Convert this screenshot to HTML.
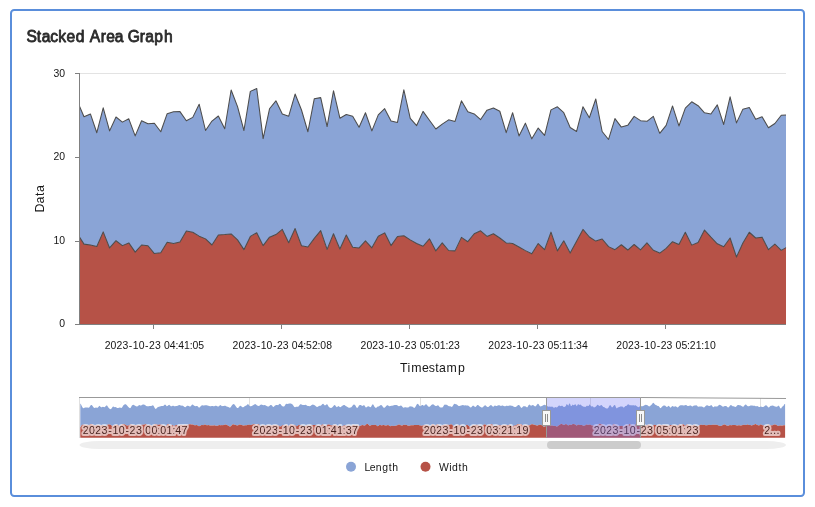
<!DOCTYPE html>
<html lang="en"><head><meta charset="utf-8"><title>Stacked Area Graph</title>
<style>
html,body{margin:0;padding:0;background:#fff;}
body{width:815px;height:507px;overflow:hidden;}
svg{display:block;font-family:"Liberation Sans",Arial,sans-serif;}
svg text{font-family:"Liberation Sans",Arial,sans-serif;}
.lbl{fill:#151515}
.halo{stroke:#fff;stroke-width:4px;stroke-linejoin:round;fill:#000;paint-order:stroke;opacity:.62}
</style></head><body>
<svg width="815" height="507" viewBox="0 0 815 507">
<rect x="0" y="0" width="815" height="507" fill="#ffffff"/>
<rect x="11" y="10" width="793" height="486" rx="3.2" ry="3.2" fill="#ffffff" stroke="#5a8edb" stroke-width="2"/>
<text transform="scale(1.0,1)" x="26.54 36.85 41.76 50.32 58.33 66.42 75.71 85.09 89.73 100.63 106.17 114.79 123.51 127.64 139.75 145.16 154.33 163.97" y="41.7" font-size="15.6" fill="#2b2b2b" stroke="#2b2b2b" stroke-width="0.8" stroke-linejoin="round">Stacked Area Graph</text>
<path d="M79,73.5H786" stroke="#e3e3e3" stroke-width="1" fill="none"/>
<path d="M79.50,106.33 84.01,116.76 90.41,113.93 96.81,132.71 103.20,107.80 109.60,130.87 116.00,117.00 122.39,122.15 128.79,118.84 135.19,135.90 141.58,120.68 147.98,123.75 154.38,123.26 160.77,131.73 167.17,113.69 173.57,111.85 179.96,111.60 186.36,120.68 192.76,117.37 199.16,104.24 205.55,130.50 211.95,121.05 218.35,116.02 224.74,128.78 231.14,90.01 237.54,106.57 243.93,130.50 250.33,91.36 256.73,88.53 263.12,138.60 269.52,108.78 275.92,100.80 282.31,114.06 288.71,116.14 295.11,94.06 301.50,110.01 307.90,131.73 314.30,98.72 320.70,97.61 327.09,126.57 333.49,90.74 339.89,118.23 346.28,114.55 352.68,116.27 359.08,127.31 365.47,112.71 371.87,130.87 378.27,114.92 384.66,108.66 391.06,121.05 397.46,122.40 403.85,89.76 410.25,118.35 416.65,125.59 423.05,111.36 429.44,120.19 435.84,129.03 442.24,124.12 448.63,119.82 455.03,121.42 461.43,100.80 467.82,111.85 474.22,113.93 480.62,119.58 487.01,110.13 493.41,107.92 499.81,111.23 506.20,132.71 512.60,112.71 519.00,135.90 525.39,123.14 531.79,138.84 538.19,128.04 544.59,135.41 550.98,109.88 557.38,106.82 563.78,112.71 570.17,127.55 576.57,131.48 582.97,106.69 589.36,117.74 595.76,98.96 602.16,131.48 608.55,139.46 614.95,118.60 621.35,127.06 627.74,125.34 634.14,116.39 640.54,120.68 646.93,121.30 653.33,116.33 659.73,133.32 666.13,125.34 672.52,105.96 678.92,125.96 685.32,108.17 691.71,101.79 698.11,105.71 704.51,112.83 710.90,114.06 717.30,104.85 723.70,124.49 730.09,96.88 736.49,122.89 742.89,109.15 749.28,107.55 755.68,119.21 762.08,116.76 768.47,127.80 774.87,123.50 781.27,115.28 786.00,114.92 L786.00,247.58 781.27,250.40 774.87,244.14 768.47,249.66 762.08,237.15 755.68,238.01 749.28,232.24 742.89,242.92 736.49,257.03 730.09,238.01 723.70,246.72 717.30,243.77 710.90,237.15 704.51,230.03 698.11,242.55 691.71,245.12 685.32,232.24 678.92,244.51 672.52,241.69 666.13,248.44 659.73,253.10 653.33,250.28 646.93,242.92 640.54,249.91 634.14,244.51 627.74,250.03 621.35,244.76 614.95,249.66 608.55,246.60 602.16,238.99 595.76,241.07 589.36,237.03 582.97,229.42 576.57,241.32 570.17,253.10 563.78,240.83 557.38,250.89 550.98,232.12 544.59,249.66 538.19,243.53 531.79,253.84 525.39,250.65 519.00,246.96 512.60,243.53 506.20,242.92 499.81,238.01 493.41,233.71 487.01,236.41 480.62,230.77 474.22,233.71 467.82,241.69 461.43,237.39 455.03,250.89 448.63,250.52 442.24,242.92 435.84,250.89 429.44,238.87 423.05,246.23 416.65,243.53 410.25,239.85 403.85,235.80 397.46,236.53 391.06,245.61 384.66,232.85 378.27,236.17 371.87,247.82 365.47,240.83 359.08,247.95 352.68,247.21 346.28,234.94 339.89,249.05 333.49,233.71 327.09,249.42 320.70,230.65 314.30,238.38 307.90,246.96 301.50,245.74 295.11,228.56 288.71,242.79 282.31,229.42 275.92,234.57 269.52,237.15 263.12,245.61 256.73,232.73 250.33,236.41 243.93,249.66 237.54,239.85 231.14,233.96 224.74,234.57 218.35,234.94 211.95,245.00 205.55,238.87 199.16,236.17 192.76,232.24 186.36,231.01 179.96,242.06 173.57,243.53 167.17,242.30 160.77,252.85 154.38,253.59 147.98,245.74 141.58,245.00 135.19,252.12 128.79,242.92 122.39,245.61 116.00,240.71 109.60,247.95 103.20,231.87 96.81,246.47 90.41,245.00 84.01,244.14 79.50,237.15Z" fill="#8aa4d6"/>
<path d="M79.50,237.15 84.01,244.14 90.41,245.00 96.81,246.47 103.20,231.87 109.60,247.95 116.00,240.71 122.39,245.61 128.79,242.92 135.19,252.12 141.58,245.00 147.98,245.74 154.38,253.59 160.77,252.85 167.17,242.30 173.57,243.53 179.96,242.06 186.36,231.01 192.76,232.24 199.16,236.17 205.55,238.87 211.95,245.00 218.35,234.94 224.74,234.57 231.14,233.96 237.54,239.85 243.93,249.66 250.33,236.41 256.73,232.73 263.12,245.61 269.52,237.15 275.92,234.57 282.31,229.42 288.71,242.79 295.11,228.56 301.50,245.74 307.90,246.96 314.30,238.38 320.70,230.65 327.09,249.42 333.49,233.71 339.89,249.05 346.28,234.94 352.68,247.21 359.08,247.95 365.47,240.83 371.87,247.82 378.27,236.17 384.66,232.85 391.06,245.61 397.46,236.53 403.85,235.80 410.25,239.85 416.65,243.53 423.05,246.23 429.44,238.87 435.84,250.89 442.24,242.92 448.63,250.52 455.03,250.89 461.43,237.39 467.82,241.69 474.22,233.71 480.62,230.77 487.01,236.41 493.41,233.71 499.81,238.01 506.20,242.92 512.60,243.53 519.00,246.96 525.39,250.65 531.79,253.84 538.19,243.53 544.59,249.66 550.98,232.12 557.38,250.89 563.78,240.83 570.17,253.10 576.57,241.32 582.97,229.42 589.36,237.03 595.76,241.07 602.16,238.99 608.55,246.60 614.95,249.66 621.35,244.76 627.74,250.03 634.14,244.51 640.54,249.91 646.93,242.92 653.33,250.28 659.73,253.10 666.13,248.44 672.52,241.69 678.92,244.51 685.32,232.24 691.71,245.12 698.11,242.55 704.51,230.03 710.90,237.15 717.30,243.77 723.70,246.72 730.09,238.01 736.49,257.03 742.89,242.92 749.28,232.24 755.68,238.01 762.08,237.15 768.47,249.66 774.87,244.14 781.27,250.40 786.00,247.58 L786.0,324.5 79.5,324.5Z" fill="#b65247"/>
<path d="M79.50,106.33 84.01,116.76 90.41,113.93 96.81,132.71 103.20,107.80 109.60,130.87 116.00,117.00 122.39,122.15 128.79,118.84 135.19,135.90 141.58,120.68 147.98,123.75 154.38,123.26 160.77,131.73 167.17,113.69 173.57,111.85 179.96,111.60 186.36,120.68 192.76,117.37 199.16,104.24 205.55,130.50 211.95,121.05 218.35,116.02 224.74,128.78 231.14,90.01 237.54,106.57 243.93,130.50 250.33,91.36 256.73,88.53 263.12,138.60 269.52,108.78 275.92,100.80 282.31,114.06 288.71,116.14 295.11,94.06 301.50,110.01 307.90,131.73 314.30,98.72 320.70,97.61 327.09,126.57 333.49,90.74 339.89,118.23 346.28,114.55 352.68,116.27 359.08,127.31 365.47,112.71 371.87,130.87 378.27,114.92 384.66,108.66 391.06,121.05 397.46,122.40 403.85,89.76 410.25,118.35 416.65,125.59 423.05,111.36 429.44,120.19 435.84,129.03 442.24,124.12 448.63,119.82 455.03,121.42 461.43,100.80 467.82,111.85 474.22,113.93 480.62,119.58 487.01,110.13 493.41,107.92 499.81,111.23 506.20,132.71 512.60,112.71 519.00,135.90 525.39,123.14 531.79,138.84 538.19,128.04 544.59,135.41 550.98,109.88 557.38,106.82 563.78,112.71 570.17,127.55 576.57,131.48 582.97,106.69 589.36,117.74 595.76,98.96 602.16,131.48 608.55,139.46 614.95,118.60 621.35,127.06 627.74,125.34 634.14,116.39 640.54,120.68 646.93,121.30 653.33,116.33 659.73,133.32 666.13,125.34 672.52,105.96 678.92,125.96 685.32,108.17 691.71,101.79 698.11,105.71 704.51,112.83 710.90,114.06 717.30,104.85 723.70,124.49 730.09,96.88 736.49,122.89 742.89,109.15 749.28,107.55 755.68,119.21 762.08,116.76 768.47,127.80 774.87,123.50 781.27,115.28 786.00,114.92" fill="none" stroke="#4c4c4c" stroke-width="1.05" stroke-linejoin="round"/>
<path d="M79.50,237.15 84.01,244.14 90.41,245.00 96.81,246.47 103.20,231.87 109.60,247.95 116.00,240.71 122.39,245.61 128.79,242.92 135.19,252.12 141.58,245.00 147.98,245.74 154.38,253.59 160.77,252.85 167.17,242.30 173.57,243.53 179.96,242.06 186.36,231.01 192.76,232.24 199.16,236.17 205.55,238.87 211.95,245.00 218.35,234.94 224.74,234.57 231.14,233.96 237.54,239.85 243.93,249.66 250.33,236.41 256.73,232.73 263.12,245.61 269.52,237.15 275.92,234.57 282.31,229.42 288.71,242.79 295.11,228.56 301.50,245.74 307.90,246.96 314.30,238.38 320.70,230.65 327.09,249.42 333.49,233.71 339.89,249.05 346.28,234.94 352.68,247.21 359.08,247.95 365.47,240.83 371.87,247.82 378.27,236.17 384.66,232.85 391.06,245.61 397.46,236.53 403.85,235.80 410.25,239.85 416.65,243.53 423.05,246.23 429.44,238.87 435.84,250.89 442.24,242.92 448.63,250.52 455.03,250.89 461.43,237.39 467.82,241.69 474.22,233.71 480.62,230.77 487.01,236.41 493.41,233.71 499.81,238.01 506.20,242.92 512.60,243.53 519.00,246.96 525.39,250.65 531.79,253.84 538.19,243.53 544.59,249.66 550.98,232.12 557.38,250.89 563.78,240.83 570.17,253.10 576.57,241.32 582.97,229.42 589.36,237.03 595.76,241.07 602.16,238.99 608.55,246.60 614.95,249.66 621.35,244.76 627.74,250.03 634.14,244.51 640.54,249.91 646.93,242.92 653.33,250.28 659.73,253.10 666.13,248.44 672.52,241.69 678.92,244.51 685.32,232.24 691.71,245.12 698.11,242.55 704.51,230.03 710.90,237.15 717.30,243.77 723.70,246.72 730.09,238.01 736.49,257.03 742.89,242.92 749.28,232.24 755.68,238.01 762.08,237.15 768.47,249.66 774.87,244.14 781.27,250.40 786.00,247.58" fill="none" stroke="#4c4c4c" stroke-width="1.05" stroke-linejoin="round"/>
<path d="M79.5,73V325" stroke="#808080" stroke-width="1" fill="none"/>
<path d="M79,324.5H786" stroke="#808080" stroke-width="1" fill="none"/>
<path d="M75,73.5H80" stroke="#808080" stroke-width="1" fill="none"/>
<path d="M75,157.5H80" stroke="#808080" stroke-width="1" fill="none"/>
<path d="M75,241.5H80" stroke="#808080" stroke-width="1" fill="none"/>
<path d="M75,324.5H80" stroke="#808080" stroke-width="1" fill="none"/>
<path d="M153.5,324V329" stroke="#808080" stroke-width="1" fill="none"/>
<path d="M281.5,324V329" stroke="#808080" stroke-width="1" fill="none"/>
<path d="M409.5,324V329" stroke="#808080" stroke-width="1" fill="none"/>
<path d="M537.5,324V329" stroke="#808080" stroke-width="1" fill="none"/>
<path d="M665.5,324V329" stroke="#808080" stroke-width="1" fill="none"/>
<text transform="scale(0.95,1)" x="56.21 62.45" y="77" font-size="11" class="lbl" >30</text>
<text transform="scale(0.95,1)" x="56.21 62.45" y="160.2" font-size="11" class="lbl" >20</text>
<text transform="scale(0.95,1)" x="56.21 62.45" y="243.9" font-size="11" class="lbl" >10</text>
<text transform="scale(0.95,1)" x="62.45" y="327.5" font-size="11" class="lbl" >0</text>
<text transform="scale(0.95,1)" x="110.17 116.41 122.65 128.89 135.56 139.77 146.01 152.67 156.88 163.12 169.36 172.54 178.78 184.68 187.53 193.77 199.68 202.52 208.77" y="349" font-size="11" class="lbl" >2023-10-23 04:41:05</text>
<text transform="scale(0.95,1)" x="244.80 251.04 257.28 263.53 270.19 274.40 280.64 287.30 291.51 297.75 303.99 307.17 313.41 319.32 322.16 328.40 334.31 337.16 343.40" y="349" font-size="11" class="lbl" >2023-10-23 04:52:08</text>
<text transform="scale(0.95,1)" x="379.43 385.67 391.92 398.16 404.82 409.03 415.27 421.94 426.14 432.39 438.62 441.80 448.04 453.95 456.79 463.03 468.94 471.79 478.03" y="349" font-size="11" class="lbl" >2023-10-23 05:01:23</text>
<text transform="scale(0.95,1)" x="514.06 520.31 526.55 532.79 539.45 543.66 549.90 556.57 560.78 567.02 573.25 576.43 582.67 588.58 591.42 597.67 603.57 606.42 612.66" y="349" font-size="11" class="lbl" >2023-10-23 05:11:34</text>
<text transform="scale(0.95,1)" x="648.70 654.94 661.18 667.42 674.08 678.29 684.53 691.20 695.41 701.65 707.89 711.06 717.30 723.21 726.06 732.30 738.20 741.05 747.29" y="349" font-size="11" class="lbl" >2023-10-23 05:21:10</text>
<g transform="translate(43.5,199) rotate(-90)"><text transform="scale(0.95,1)" x="-14.21 -4.64 3.11 7.25" y="0" font-size="13" class="lbl" >Data</text></g>
<text transform="scale(0.95,1)" x="421.11 429.01 432.78 444.29 451.30 458.10 462.24 470.05 482.02" y="371.8" font-size="13" class="lbl" >Timestamp</text>
<path d="M79.5,398V438" stroke="#e0e0e0" stroke-width="1" fill="none"/>
<path d="M249.5,398V438" stroke="#e0e0e0" stroke-width="1" fill="none"/>
<path d="M420.5,398V438" stroke="#e0e0e0" stroke-width="1" fill="none"/>
<path d="M590.5,398V438" stroke="#e0e0e0" stroke-width="1" fill="none"/>
<path d="M760.5,398V438" stroke="#e0e0e0" stroke-width="1" fill="none"/>
<path d="M80.30,403.63 80.68,403.63 81.53,405.60 82.38,407.33 83.23,408.26 84.08,408.10 84.93,407.57 85.78,407.41 86.63,407.44 87.49,407.54 88.34,407.75 89.19,407.44 90.04,406.24 90.89,405.12 91.74,405.10 92.59,406.08 93.44,407.24 94.29,407.90 95.14,407.77 96.00,407.45 96.85,407.76 97.70,407.83 98.55,406.78 99.40,405.87 100.25,406.38 101.10,407.32 101.95,407.29 102.80,406.79 103.66,406.89 104.51,407.14 105.36,406.54 106.21,405.47 107.06,405.51 107.91,406.78 108.76,407.96 109.61,408.73 110.46,409.17 111.32,408.68 112.17,407.39 113.02,406.51 113.87,406.82 114.72,407.24 115.57,407.11 116.42,407.42 117.27,408.04 118.12,408.02 118.98,407.66 119.83,407.56 120.68,407.87 121.53,407.99 122.38,406.98 123.23,405.47 124.08,404.63 124.93,404.32 125.78,404.33 126.64,405.01 127.49,406.04 128.34,406.93 129.19,407.76 130.04,408.16 130.89,407.39 131.74,405.83 132.59,404.88 133.44,404.82 134.30,405.16 135.15,405.72 136.00,406.18 136.85,406.46 137.70,406.33 138.55,405.48 139.40,405.03 140.25,405.43 141.10,405.55 141.96,404.98 142.81,404.47 143.66,404.50 144.51,404.78 145.36,405.22 146.21,405.92 147.06,406.26 147.91,406.21 148.76,406.23 149.62,406.05 150.47,405.92 151.32,405.99 152.17,405.60 153.02,405.26 153.87,406.13 154.72,407.88 155.57,408.88 156.42,408.38 157.28,407.47 158.13,407.07 158.98,406.79 159.83,406.45 160.68,406.23 161.53,406.01 162.38,406.00 163.23,406.11 164.08,405.35 164.94,404.41 165.79,404.96 166.64,406.14 167.49,406.07 168.34,405.13 169.19,404.81 170.04,405.52 170.89,406.34 171.74,406.33 172.60,405.79 173.45,405.75 174.30,406.20 175.15,406.37 176.00,406.11 176.85,405.90 177.70,405.79 178.55,405.37 179.40,405.06 180.26,405.37 181.11,405.64 181.96,405.59 182.81,405.76 183.66,406.34 184.51,407.11 185.36,407.30 186.21,406.54 187.06,405.83 187.92,405.77 188.77,406.12 189.62,406.62 190.47,406.56 191.32,405.48 192.17,404.45 193.02,404.67 193.87,405.49 194.72,405.96 195.58,406.17 196.43,406.06 197.28,406.03 198.13,406.82 198.98,407.64 199.83,407.33 200.68,406.27 201.53,405.41 202.38,405.24 203.23,405.45 204.09,405.43 204.94,405.35 205.79,405.30 206.64,405.24 207.49,405.49 208.34,405.84 209.19,406.08 210.04,406.35 210.89,406.27 211.75,405.92 212.60,405.96 213.45,406.26 214.30,406.19 215.15,405.75 216.00,405.66 216.85,406.03 217.70,406.40 218.55,406.46 219.41,405.71 220.26,404.90 221.11,405.41 221.96,406.15 222.81,406.10 223.66,405.92 224.51,405.68 225.36,405.63 226.21,406.19 227.07,406.69 227.92,406.82 228.77,407.21 229.62,407.76 230.47,407.49 231.32,406.23 232.17,404.92 233.02,404.14 233.87,404.05 234.73,404.82 235.58,406.05 236.43,407.22 237.28,408.01 238.13,407.98 238.98,407.11 239.83,406.09 240.68,405.80 241.53,406.43 242.39,407.25 243.24,407.36 244.09,406.63 244.94,405.88 245.79,405.65 246.64,405.18 247.49,404.32 248.34,404.37 249.19,405.49 250.05,406.33 250.90,406.33 251.75,405.98 252.60,405.59 253.45,405.07 254.30,404.41 255.15,404.05 256.00,404.42 256.85,405.18 257.71,405.82 258.56,406.08 259.41,405.64 260.26,404.90 261.11,404.55 261.96,404.67 262.81,405.06 263.66,405.17 264.51,405.04 265.37,405.22 266.22,405.68 267.07,406.15 267.92,406.47 268.77,406.40 269.62,405.77 270.47,404.99 271.32,404.88 272.17,405.86 273.03,406.94 273.88,406.73 274.73,405.85 275.58,405.29 276.43,404.97 277.28,405.09 278.13,405.17 278.98,404.35 279.83,403.66 280.69,404.31 281.54,405.46 282.39,406.15 283.24,406.62 284.09,406.62 284.94,405.38 285.79,403.89 286.64,403.65 287.49,403.98 288.35,403.80 289.20,403.52 290.05,403.44 290.90,403.48 291.75,403.88 292.60,404.55 293.45,405.69 294.30,406.98 295.15,407.20 296.01,406.72 296.86,406.65 297.71,406.79 298.56,406.53 299.41,405.37 300.26,404.14 301.11,404.19 301.96,404.78 302.81,404.97 303.67,405.04 304.52,404.92 305.37,404.71 306.22,405.10 307.07,405.75 307.92,405.94 308.77,406.06 309.62,406.19 310.47,405.92 311.32,405.36 312.18,404.77 313.03,404.59 313.88,404.88 314.73,405.29 315.58,406.03 316.43,406.83 317.28,406.89 318.13,406.42 318.98,405.96 319.84,405.71 320.69,405.66 321.54,405.11 322.39,403.92 323.24,403.66 324.09,404.76 324.94,405.49 325.79,404.95 326.64,404.18 327.50,404.62 328.35,406.15 329.20,407.31 330.05,407.79 330.90,407.97 331.75,407.66 332.60,406.92 333.45,405.95 334.30,405.08 335.16,405.33 336.01,406.59 336.86,407.13 337.71,406.40 338.56,405.92 339.41,406.63 340.26,407.17 341.11,406.65 341.96,405.98 342.82,405.44 343.67,404.90 344.52,404.98 345.37,405.71 346.22,406.32 347.07,406.63 347.92,407.17 348.77,407.65 349.62,407.63 350.48,407.48 351.33,407.19 352.18,406.20 353.03,404.96 353.88,404.43 354.73,404.67 355.58,405.73 356.43,407.41 357.28,408.06 358.14,406.94 358.99,405.59 359.84,405.01 360.69,404.97 361.54,405.56 362.39,406.08 363.24,405.46 364.09,405.10 364.94,406.34 365.80,407.53 366.65,407.26 367.50,406.50 368.35,406.28 369.20,406.62 370.05,407.15 370.90,406.95 371.75,405.46 372.60,404.26 373.46,404.86 374.31,406.39 375.16,407.60 376.01,407.90 376.86,407.22 377.71,406.60 378.56,406.44 379.41,405.98 380.26,405.34 381.12,405.08 381.97,405.50 382.82,406.63 383.67,407.74 384.52,407.79 385.37,406.88 386.22,405.90 387.07,405.25 387.92,405.28 388.78,405.92 389.63,406.23 390.48,406.01 391.33,405.83 392.18,405.76 393.03,405.50 393.88,405.17 394.73,405.04 395.58,404.98 396.44,404.94 397.29,405.36 398.14,406.02 398.99,406.21 399.84,405.90 400.69,405.49 401.54,405.72 402.39,406.86 403.24,407.66 404.10,407.46 404.95,407.22 405.80,407.33 406.65,407.43 407.50,407.56 408.35,407.43 409.20,406.75 410.05,406.31 410.90,406.46 411.76,406.56 412.61,406.69 413.46,407.48 414.31,408.10 415.16,407.33 416.01,405.63 416.86,404.15 417.71,403.67 418.56,404.46 419.41,405.76 420.27,406.35 421.12,405.79 421.97,404.97 422.82,405.06 423.67,405.66 424.52,405.43 425.37,404.46 426.22,404.18 427.07,405.12 427.93,406.33 428.78,406.86 429.63,406.76 430.48,406.12 431.33,405.12 432.18,404.40 433.03,404.33 433.88,404.81 434.73,405.47 435.59,405.91 436.44,405.91 437.29,405.47 438.14,405.33 438.99,406.27 439.84,407.29 440.69,407.47 441.54,407.54 442.39,407.58 443.25,406.61 444.10,405.08 444.95,404.52 445.80,404.78 446.65,404.85 447.50,405.24 448.35,406.09 449.20,406.35 450.05,406.21 450.91,406.61 451.76,406.99 452.61,406.25 453.46,404.74 454.31,403.79 455.16,403.89 456.01,404.23 456.86,404.42 457.71,405.18 458.57,406.03 459.42,406.05 460.27,405.75 461.12,405.55 461.97,405.21 462.82,404.99 463.67,405.22 464.52,405.39 465.37,405.29 466.23,405.38 467.08,405.44 467.93,405.46 468.78,406.02 469.63,406.83 470.48,407.38 471.33,407.30 472.18,406.29 473.03,405.48 473.89,405.88 474.74,406.71 475.59,406.90 476.44,406.05 477.29,404.94 478.14,404.95 478.99,405.85 479.84,406.57 480.69,407.03 481.55,407.38 482.40,407.39 483.25,406.84 484.10,405.89 484.95,405.26 485.80,405.51 486.65,406.38 487.50,407.03 488.35,406.94 489.21,406.28 490.06,405.41 490.91,404.93 491.76,405.42 492.61,406.48 493.46,406.67 494.31,405.74 495.16,405.51 496.01,406.07 496.87,405.95 497.72,405.50 498.57,405.33 499.42,405.34 500.27,405.81 501.12,405.96 501.97,405.45 502.82,405.41 503.67,405.90 504.53,406.28 505.38,406.21 506.23,405.81 507.08,405.79 507.93,406.03 508.78,405.86 509.63,405.46 510.48,405.44 511.33,405.71 512.19,405.87 513.04,406.20 513.89,406.67 514.74,406.99 515.59,407.06 516.44,406.55 517.29,405.69 518.14,405.11 518.99,405.01 519.85,405.81 520.70,407.26 521.55,407.95 522.40,407.27 523.25,406.37 524.10,406.14 524.95,406.20 525.80,406.56 526.65,407.33 527.51,407.18 528.36,405.56 529.21,404.42 530.06,405.01 530.91,405.82 531.76,405.51 532.61,404.91 533.46,405.17 534.31,406.05 535.16,406.46 536.02,405.88 536.87,404.69 537.72,403.73 538.57,404.09 539.42,405.53 540.27,406.44 541.12,406.35 541.97,405.91 542.82,405.46 543.68,405.12 544.53,404.86 545.38,405.01 546.23,405.65 547.08,405.94 547.93,406.47 548.78,406.85 549.63,406.54 550.48,406.82 551.34,406.84 552.19,406.58 553.04,407.17 553.89,407.77 554.74,407.38 555.59,407.01 556.44,407.41 557.29,407.35 558.14,406.23 559.00,405.39 559.85,405.65 560.70,406.21 561.55,405.80 562.40,405.67 563.25,406.81 564.10,406.90 564.95,406.65 565.80,405.95 566.66,404.11 567.51,404.81 568.36,405.77 569.21,403.59 570.06,403.79 570.91,406.37 571.76,405.70 572.61,404.46 573.46,405.24 574.32,405.07 575.17,404.07 576.02,405.27 576.87,406.28 577.72,404.55 578.57,404.31 579.42,405.11 580.27,404.53 581.12,405.12 581.98,405.95 582.83,406.36 583.68,406.71 584.53,406.71 585.38,406.93 586.23,406.17 587.08,405.56 587.93,406.31 588.78,405.65 589.64,404.30 590.49,405.51 591.34,406.61 592.19,406.14 593.04,406.60 593.89,407.43 594.74,407.23 595.59,406.77 596.44,405.95 597.30,404.86 598.15,404.99 599.00,405.79 599.85,405.94 600.70,405.35 601.55,404.94 602.40,405.93 603.25,406.93 604.10,407.11 604.96,407.63 605.81,408.14 606.66,408.44 607.51,408.49 608.36,407.67 609.21,405.89 610.06,404.91 610.91,405.81 611.76,407.31 612.62,407.23 613.47,405.91 614.32,405.09 615.17,405.32 616.02,407.39 616.87,408.44 617.72,407.48 618.57,407.26 619.42,407.11 620.28,406.53 621.13,406.54 621.98,406.56 622.83,406.85 623.68,407.65 624.53,406.95 625.38,405.94 626.23,406.04 627.08,405.21 627.94,404.19 628.79,404.52 629.64,405.26 630.49,405.27 631.34,405.37 632.19,405.46 633.04,405.09 633.89,405.50 634.74,405.38 635.60,405.18 636.45,405.92 637.30,406.60 638.15,407.18 639.00,406.96 639.85,406.23 640.70,406.06 641.55,406.20 642.40,406.22 643.25,406.00 644.11,405.50 644.96,404.92 645.81,404.74 646.66,404.99 647.51,405.30 648.36,405.88 649.21,406.42 650.06,406.08 650.91,405.29 651.77,404.48 652.62,403.32 653.47,402.76 654.32,403.65 655.17,404.63 656.02,404.94 656.87,405.41 657.72,405.88 658.57,406.08 659.43,407.02 660.28,408.13 661.13,407.86 661.98,406.72 662.83,405.92 663.68,405.51 664.53,405.38 665.38,405.85 666.23,406.83 667.09,407.10 667.94,406.17 668.79,405.66 669.64,406.72 670.49,407.73 671.34,407.06 672.19,405.96 673.04,406.13 673.89,406.77 674.75,406.62 675.60,406.28 676.45,406.69 677.30,407.43 678.15,407.37 679.00,406.35 679.85,405.42 680.70,405.15 681.55,405.17 682.41,405.32 683.26,405.55 684.11,405.58 684.96,405.27 685.81,405.02 686.66,405.36 687.51,405.93 688.36,406.03 689.21,405.74 690.07,405.48 690.92,405.56 691.77,406.14 692.62,406.41 693.47,405.85 694.32,405.45 695.17,405.44 696.02,405.17 696.87,405.44 697.73,406.46 698.58,406.85 699.43,406.54 700.28,406.48 701.13,406.47 701.98,406.48 702.83,407.03 703.68,407.57 704.53,407.28 705.39,406.33 706.24,405.47 707.09,405.24 707.94,405.53 708.79,405.94 709.64,406.03 710.49,405.43 711.34,404.98 712.19,405.97 713.05,407.27 713.90,406.97 714.75,406.22 715.60,406.41 716.45,406.62 717.30,406.39 718.15,405.86 719.00,404.96 719.85,404.65 720.71,405.18 721.56,405.86 722.41,406.55 723.26,406.76 724.11,406.28 724.96,405.94 725.81,405.98 726.66,406.37 727.51,407.14 728.37,407.51 729.22,406.79 730.07,405.55 730.92,404.98 731.77,405.59 732.62,406.31 733.47,406.33 734.32,406.54 735.17,407.12 736.03,406.81 736.88,405.69 737.73,405.05 738.58,405.06 739.43,405.18 740.28,405.36 741.13,405.76 741.98,406.33 742.83,406.72 743.69,406.43 744.54,405.32 745.39,404.41 746.24,404.75 747.09,405.66 747.94,406.15 748.79,406.18 749.64,405.95 750.49,405.61 751.34,405.43 752.20,405.59 753.05,405.77 753.90,405.64 754.75,405.75 755.60,406.17 756.45,406.17 757.30,406.02 758.15,406.46 759.00,407.11 759.86,407.05 760.71,406.62 761.56,406.75 762.41,406.99 763.26,406.89 764.11,406.54 764.96,405.76 765.81,405.13 766.66,405.41 767.52,406.49 768.37,407.48 769.22,407.20 770.07,406.21 770.92,405.85 771.77,405.67 772.62,405.44 773.47,405.83 774.32,406.32 775.18,406.46 776.03,406.70 776.88,406.85 777.73,406.13 778.58,405.41 779.43,406.47 780.28,408.36 781.13,408.43 781.98,407.04 782.84,406.13 783.69,405.43 784.54,404.00 785.10,404.00 L785.10,425.14 784.54,425.14 783.69,425.13 782.84,425.48 781.98,425.65 781.13,425.46 780.28,425.39 779.43,425.61 778.58,425.89 777.73,425.79 776.88,425.24 776.03,424.82 775.18,424.59 774.32,424.45 773.47,424.81 772.62,425.35 771.77,425.45 770.92,425.35 770.07,425.25 769.22,424.92 768.37,424.61 767.52,424.94 766.66,425.79 765.81,426.19 764.96,425.84 764.11,425.51 763.26,425.48 762.41,425.26 761.56,424.69 760.71,424.48 759.86,425.04 759.00,425.48 758.15,425.33 757.30,425.03 756.45,424.54 755.60,424.10 754.75,424.26 753.90,424.64 753.05,424.97 752.20,425.35 751.34,425.40 750.49,425.10 749.64,425.01 748.79,424.92 747.94,424.56 747.09,424.56 746.24,424.97 745.39,425.01 744.54,424.78 743.69,424.75 742.83,424.94 741.98,425.20 741.13,425.40 740.28,425.38 739.43,425.21 738.58,425.32 737.73,425.59 736.88,425.45 736.03,425.15 735.17,425.02 734.32,424.97 733.47,424.88 732.62,424.93 731.77,425.19 730.92,425.25 730.07,425.11 729.22,425.30 728.37,425.72 727.51,425.86 726.66,425.58 725.81,425.02 724.96,424.56 724.11,424.49 723.26,424.71 722.41,425.13 721.56,425.67 720.71,426.07 719.85,426.10 719.00,425.77 718.15,425.36 717.30,425.10 716.45,424.82 715.60,424.63 714.75,424.72 713.90,424.77 713.05,424.67 712.19,424.87 711.34,425.11 710.49,424.91 709.64,424.69 708.79,424.84 707.94,425.08 707.09,425.24 706.24,425.32 705.39,425.15 704.53,424.75 703.68,424.69 702.83,424.98 701.98,424.90 701.13,424.61 700.28,424.94 699.43,425.54 698.58,425.83 697.73,426.15 696.87,426.37 696.02,425.95 695.17,425.19 694.32,424.79 693.47,425.00 692.62,425.43 691.77,425.58 690.92,425.51 690.07,425.59 689.21,425.67 688.36,425.20 687.51,424.45 686.66,424.50 685.81,425.38 684.96,425.71 684.11,424.99 683.26,424.35 682.41,424.45 681.55,424.83 680.70,424.88 679.85,424.58 679.00,424.67 678.15,425.36 677.30,425.70 676.45,425.46 675.60,425.35 674.75,425.32 673.89,425.10 673.04,425.02 672.19,425.06 671.34,424.96 670.49,425.02 669.64,425.46 668.79,425.80 667.94,425.73 667.09,425.62 666.23,425.46 665.38,425.12 664.53,424.98 663.68,425.09 662.83,425.09 661.98,425.06 661.13,425.15 660.28,424.92 659.43,424.60 658.57,425.02 657.72,425.64 656.87,425.40 656.02,424.95 655.17,424.93 654.32,424.87 653.47,425.06 652.62,425.82 651.77,426.41 650.91,426.31 650.06,425.61 649.21,424.85 648.36,424.69 647.51,424.99 646.66,425.20 645.81,425.32 644.96,425.58 644.11,426.01 643.25,426.29 642.40,426.02 641.55,425.42 640.70,425.44 639.85,425.85 639.00,425.94 638.15,425.65 637.30,424.94 636.45,424.31 635.60,424.31 634.74,425.44 633.89,426.19 633.04,425.61 632.19,425.44 631.34,425.30 630.49,424.41 629.64,424.09 628.79,424.87 627.94,425.05 627.08,424.64 626.23,424.97 625.38,425.48 624.53,426.07 623.68,426.57 622.83,426.26 621.98,425.85 621.13,425.90 620.28,425.97 619.42,425.98 618.57,425.97 617.72,426.03 616.87,425.69 616.02,425.08 615.17,424.79 614.32,424.27 613.47,423.99 612.62,425.06 611.76,425.94 610.91,425.84 610.06,425.42 609.21,425.04 608.36,425.43 607.51,426.03 606.66,426.46 605.81,426.47 604.96,425.93 604.10,425.51 603.25,425.14 602.40,424.58 601.55,424.17 600.70,424.00 599.85,423.78 599.00,424.10 598.15,424.65 597.30,425.14 596.44,425.99 595.59,426.19 594.74,425.90 593.89,425.76 593.04,425.43 592.19,425.43 591.34,425.36 590.49,424.82 589.64,424.40 588.78,424.65 587.93,424.89 587.08,424.39 586.23,424.60 585.38,425.34 584.53,425.53 583.68,425.77 582.83,425.52 581.98,425.10 581.12,425.12 580.27,425.09 579.42,424.98 578.57,424.45 577.72,424.65 576.87,425.55 576.02,425.13 575.17,424.32 574.32,424.24 573.46,423.96 572.61,423.94 571.76,424.65 570.91,424.90 570.06,424.39 569.21,424.68 568.36,425.46 567.51,424.99 566.66,424.19 565.80,424.03 564.95,424.46 564.10,425.01 563.25,424.82 562.40,424.23 561.55,423.78 560.70,423.96 559.85,424.81 559.00,425.30 558.14,425.66 557.29,426.45 556.44,426.61 555.59,426.01 554.74,425.92 553.89,426.09 553.04,425.76 552.19,425.43 551.34,425.43 550.48,425.18 549.63,424.79 548.78,425.24 547.93,425.65 547.08,425.67 546.23,425.95 545.38,426.31 544.53,426.69 543.68,426.64 542.82,425.93 541.97,425.27 541.12,424.93 540.27,424.69 539.42,424.68 538.57,425.01 537.72,425.39 536.87,425.48 536.02,425.30 535.16,425.02 534.31,424.77 533.46,424.59 532.61,424.36 531.76,424.20 530.91,424.57 530.06,425.28 529.21,425.52 528.36,425.22 527.51,425.13 526.65,425.43 525.80,425.42 524.95,425.05 524.10,425.10 523.25,425.45 522.40,425.24 521.55,424.61 520.70,424.18 519.85,424.10 518.99,424.05 518.14,423.95 517.29,424.21 516.44,424.91 515.59,425.43 514.74,425.55 513.89,425.70 513.04,426.10 512.19,426.31 511.33,425.91 510.48,425.21 509.63,424.86 508.78,424.94 507.93,425.02 507.08,425.06 506.23,425.24 505.38,425.34 504.53,425.15 503.67,425.05 502.82,425.31 501.97,425.56 501.12,425.56 500.27,425.52 499.42,425.47 498.57,425.35 497.72,425.38 496.87,425.54 496.01,425.63 495.16,425.82 494.31,426.04 493.46,425.72 492.61,424.86 491.76,424.22 490.91,424.36 490.06,424.86 489.21,425.00 488.35,424.94 487.50,425.13 486.65,425.23 485.80,424.87 484.95,424.52 484.10,424.60 483.25,424.89 482.40,425.40 481.55,426.21 480.69,426.70 479.84,426.27 478.99,425.55 478.14,425.31 477.29,425.07 476.44,424.78 475.59,425.02 474.74,425.16 473.89,424.93 473.03,425.16 472.18,425.76 471.33,426.16 470.48,426.46 469.63,426.63 468.78,426.12 467.93,425.13 467.08,424.70 466.23,425.22 465.37,426.12 464.52,426.78 463.67,426.95 462.82,426.53 461.97,425.79 461.12,425.43 460.27,425.48 459.42,425.46 458.57,425.36 457.71,425.30 456.86,425.42 456.01,425.74 455.16,426.09 454.31,426.36 453.46,426.10 452.61,425.19 451.76,424.41 450.91,424.34 450.05,424.73 449.20,424.90 448.35,424.72 447.50,424.80 446.65,424.99 445.80,424.85 444.95,424.75 444.10,424.93 443.25,425.08 442.39,425.15 441.54,425.52 440.69,425.98 439.84,425.91 438.99,425.30 438.14,424.66 437.29,424.42 436.44,424.71 435.59,425.34 434.73,425.52 433.88,424.85 433.03,424.28 432.18,424.60 431.33,425.41 430.48,425.96 429.63,426.08 428.78,425.87 427.93,425.40 427.07,425.07 426.22,424.97 425.37,424.97 424.52,425.09 423.67,425.21 422.82,425.40 421.97,425.65 421.12,425.65 420.27,425.43 419.41,425.18 418.56,424.97 417.71,424.98 416.86,425.11 416.01,425.07 415.16,424.92 414.31,424.98 413.46,425.22 412.61,425.34 411.76,425.28 410.90,425.23 410.05,425.42 409.20,425.75 408.35,425.78 407.50,425.43 406.65,425.08 405.80,424.88 404.95,424.78 404.10,424.82 403.24,425.06 402.39,425.40 401.54,425.48 400.69,425.14 399.84,424.74 398.99,424.56 398.14,424.72 397.29,425.14 396.44,425.51 395.58,425.67 394.73,425.79 393.88,425.99 393.03,425.99 392.18,425.75 391.33,425.84 390.48,426.22 389.63,426.00 388.78,425.21 387.92,424.90 387.07,425.20 386.22,425.48 385.37,425.51 384.52,425.28 383.67,424.98 382.82,425.03 381.97,425.38 381.12,425.37 380.26,424.95 379.41,424.99 378.56,425.78 377.71,426.24 376.86,425.65 376.01,424.83 375.16,424.72 374.31,425.00 373.46,425.05 372.60,424.92 371.75,424.91 370.90,425.21 370.05,425.65 369.20,425.51 368.35,424.53 367.50,423.72 366.65,423.93 365.80,424.71 364.94,425.40 364.09,425.57 363.24,425.24 362.39,424.97 361.54,425.25 360.69,425.79 359.84,426.07 358.99,425.97 358.14,425.49 357.28,425.14 356.43,425.37 355.58,425.53 354.73,425.16 353.88,424.85 353.03,425.07 352.18,425.61 351.33,425.90 350.48,425.69 349.62,425.45 348.77,425.61 347.92,425.84 347.07,425.84 346.22,425.66 345.37,425.45 344.52,425.39 343.67,425.57 342.82,425.88 341.96,425.99 341.11,425.88 340.26,425.78 339.41,425.71 338.56,425.84 337.71,426.05 336.86,425.72 336.01,425.07 335.16,424.86 334.30,425.00 333.45,425.08 332.60,425.19 331.75,425.46 330.90,425.53 330.05,425.02 329.20,424.44 328.35,424.46 327.50,424.73 326.64,424.99 325.79,425.41 324.94,425.63 324.09,425.25 323.24,424.59 322.39,424.41 321.54,424.89 320.69,425.29 319.84,425.39 318.98,425.59 318.13,425.71 317.28,425.43 316.43,425.01 315.58,424.90 314.73,425.07 313.88,425.06 313.03,424.94 312.18,425.05 311.32,425.34 310.47,425.64 309.62,425.70 308.77,425.50 307.92,425.44 307.07,425.38 306.22,425.34 305.37,425.84 304.52,426.33 303.67,426.18 302.81,425.70 301.96,425.30 301.11,425.15 300.26,425.07 299.41,424.90 298.56,425.08 297.71,425.74 296.86,426.16 296.01,425.91 295.15,425.35 294.30,425.07 293.45,425.15 292.60,425.12 291.75,424.69 290.90,424.36 290.05,424.90 289.20,425.82 288.35,425.98 287.49,425.38 286.64,424.86 285.79,424.88 284.94,425.38 284.09,425.61 283.24,425.29 282.39,425.27 281.54,425.94 280.69,426.58 279.83,426.51 278.98,425.91 278.13,425.43 277.28,425.28 276.43,425.30 275.58,425.30 274.73,425.15 273.88,425.06 273.03,425.23 272.17,425.43 271.32,425.47 270.47,425.47 269.62,425.46 268.77,425.47 267.92,425.51 267.07,425.34 266.22,425.21 265.37,425.52 264.51,425.66 263.66,425.31 262.81,425.19 261.96,425.57 261.11,425.96 260.26,425.77 259.41,424.89 258.56,424.11 257.71,424.28 256.85,424.84 256.00,424.67 255.15,424.13 254.30,424.06 253.45,424.34 252.60,424.58 251.75,424.78 250.90,424.94 250.05,424.91 249.19,424.73 248.34,424.72 247.49,425.00 246.64,425.22 245.79,425.19 244.94,425.22 244.09,425.41 243.24,425.43 242.39,425.24 241.53,425.04 240.68,424.77 239.83,424.59 238.98,424.80 238.13,425.24 237.28,425.47 236.43,425.36 235.58,425.08 234.73,424.77 233.87,424.46 233.02,424.35 232.17,424.87 231.32,425.87 230.47,426.48 229.62,426.46 228.77,426.05 227.92,425.44 227.07,425.07 226.21,424.87 225.36,424.62 224.51,424.72 223.66,425.09 222.81,425.19 221.96,425.12 221.11,425.22 220.26,425.20 219.41,425.03 218.55,425.23 217.70,425.65 216.85,425.82 216.00,425.71 215.15,425.42 214.30,425.31 213.45,425.51 212.60,425.57 211.75,425.53 210.89,425.54 210.04,425.47 209.19,425.21 208.34,425.01 207.49,425.17 206.64,425.24 205.79,424.86 204.94,424.61 204.09,424.87 203.23,425.13 202.38,425.07 201.53,425.05 200.68,425.48 199.83,426.07 198.98,426.15 198.13,425.64 197.28,425.18 196.43,425.11 195.58,425.16 194.72,425.20 193.87,425.02 193.02,424.59 192.17,424.43 191.32,424.41 190.47,424.13 189.62,424.13 188.77,424.53 187.92,424.83 187.06,425.03 186.21,425.00 185.36,424.69 184.51,424.74 183.66,425.15 182.81,425.28 181.96,425.07 181.11,424.84 180.26,424.97 179.40,425.45 178.55,425.65 177.70,425.33 176.85,424.95 176.00,425.00 175.15,425.53 174.30,425.89 173.45,425.67 172.60,425.25 171.74,425.19 170.89,425.54 170.04,425.51 169.19,424.73 168.34,424.06 167.49,424.27 166.64,425.18 165.79,425.94 164.94,426.08 164.08,425.85 163.23,425.45 162.38,425.04 161.53,424.80 160.68,424.64 159.83,424.57 158.98,424.65 158.13,424.79 157.28,424.76 156.42,424.42 155.57,424.14 154.72,424.23 153.87,424.64 153.02,425.40 152.17,426.05 151.32,425.86 150.47,425.21 149.62,424.92 148.76,425.04 147.91,425.18 147.06,424.92 146.21,424.37 145.36,424.17 144.51,424.43 143.66,424.71 142.81,424.71 141.96,424.63 141.10,424.91 140.25,425.40 139.40,425.37 138.55,424.99 137.70,424.97 136.85,425.22 136.00,425.32 135.15,425.18 134.30,425.09 133.44,425.33 132.59,425.37 131.74,424.87 130.89,424.50 130.04,424.78 129.19,425.25 128.34,425.52 127.49,425.65 126.64,425.48 125.78,424.98 124.93,424.53 124.08,424.28 123.23,424.24 122.38,424.35 121.53,424.65 120.68,425.30 119.83,425.96 118.98,425.99 118.12,425.33 117.27,424.70 116.42,424.78 115.57,425.11 114.72,425.09 113.87,425.20 113.02,425.79 112.17,426.12 111.32,425.50 110.46,424.70 109.61,424.56 108.76,424.59 107.91,424.56 107.06,424.95 106.21,425.63 105.36,425.98 104.51,425.89 103.66,425.56 102.80,425.13 101.95,424.99 101.10,425.43 100.25,425.87 99.40,425.62 98.55,425.10 97.70,425.02 96.85,425.21 96.00,425.42 95.14,425.60 94.29,425.47 93.44,425.09 92.59,424.64 91.74,424.19 90.89,424.08 90.04,424.57 89.19,425.14 88.34,425.18 87.49,425.07 86.63,425.18 85.78,425.13 84.93,424.85 84.08,424.73 83.23,424.74 82.38,424.78 81.53,425.41 80.68,427.00 80.30,427.00Z" fill="#8aa4d6"/>
<path d="M80.30,427.00 80.68,427.00 81.53,425.41 82.38,424.78 83.23,424.74 84.08,424.73 84.93,424.85 85.78,425.13 86.63,425.18 87.49,425.07 88.34,425.18 89.19,425.14 90.04,424.57 90.89,424.08 91.74,424.19 92.59,424.64 93.44,425.09 94.29,425.47 95.14,425.60 96.00,425.42 96.85,425.21 97.70,425.02 98.55,425.10 99.40,425.62 100.25,425.87 101.10,425.43 101.95,424.99 102.80,425.13 103.66,425.56 104.51,425.89 105.36,425.98 106.21,425.63 107.06,424.95 107.91,424.56 108.76,424.59 109.61,424.56 110.46,424.70 111.32,425.50 112.17,426.12 113.02,425.79 113.87,425.20 114.72,425.09 115.57,425.11 116.42,424.78 117.27,424.70 118.12,425.33 118.98,425.99 119.83,425.96 120.68,425.30 121.53,424.65 122.38,424.35 123.23,424.24 124.08,424.28 124.93,424.53 125.78,424.98 126.64,425.48 127.49,425.65 128.34,425.52 129.19,425.25 130.04,424.78 130.89,424.50 131.74,424.87 132.59,425.37 133.44,425.33 134.30,425.09 135.15,425.18 136.00,425.32 136.85,425.22 137.70,424.97 138.55,424.99 139.40,425.37 140.25,425.40 141.10,424.91 141.96,424.63 142.81,424.71 143.66,424.71 144.51,424.43 145.36,424.17 146.21,424.37 147.06,424.92 147.91,425.18 148.76,425.04 149.62,424.92 150.47,425.21 151.32,425.86 152.17,426.05 153.02,425.40 153.87,424.64 154.72,424.23 155.57,424.14 156.42,424.42 157.28,424.76 158.13,424.79 158.98,424.65 159.83,424.57 160.68,424.64 161.53,424.80 162.38,425.04 163.23,425.45 164.08,425.85 164.94,426.08 165.79,425.94 166.64,425.18 167.49,424.27 168.34,424.06 169.19,424.73 170.04,425.51 170.89,425.54 171.74,425.19 172.60,425.25 173.45,425.67 174.30,425.89 175.15,425.53 176.00,425.00 176.85,424.95 177.70,425.33 178.55,425.65 179.40,425.45 180.26,424.97 181.11,424.84 181.96,425.07 182.81,425.28 183.66,425.15 184.51,424.74 185.36,424.69 186.21,425.00 187.06,425.03 187.92,424.83 188.77,424.53 189.62,424.13 190.47,424.13 191.32,424.41 192.17,424.43 193.02,424.59 193.87,425.02 194.72,425.20 195.58,425.16 196.43,425.11 197.28,425.18 198.13,425.64 198.98,426.15 199.83,426.07 200.68,425.48 201.53,425.05 202.38,425.07 203.23,425.13 204.09,424.87 204.94,424.61 205.79,424.86 206.64,425.24 207.49,425.17 208.34,425.01 209.19,425.21 210.04,425.47 210.89,425.54 211.75,425.53 212.60,425.57 213.45,425.51 214.30,425.31 215.15,425.42 216.00,425.71 216.85,425.82 217.70,425.65 218.55,425.23 219.41,425.03 220.26,425.20 221.11,425.22 221.96,425.12 222.81,425.19 223.66,425.09 224.51,424.72 225.36,424.62 226.21,424.87 227.07,425.07 227.92,425.44 228.77,426.05 229.62,426.46 230.47,426.48 231.32,425.87 232.17,424.87 233.02,424.35 233.87,424.46 234.73,424.77 235.58,425.08 236.43,425.36 237.28,425.47 238.13,425.24 238.98,424.80 239.83,424.59 240.68,424.77 241.53,425.04 242.39,425.24 243.24,425.43 244.09,425.41 244.94,425.22 245.79,425.19 246.64,425.22 247.49,425.00 248.34,424.72 249.19,424.73 250.05,424.91 250.90,424.94 251.75,424.78 252.60,424.58 253.45,424.34 254.30,424.06 255.15,424.13 256.00,424.67 256.85,424.84 257.71,424.28 258.56,424.11 259.41,424.89 260.26,425.77 261.11,425.96 261.96,425.57 262.81,425.19 263.66,425.31 264.51,425.66 265.37,425.52 266.22,425.21 267.07,425.34 267.92,425.51 268.77,425.47 269.62,425.46 270.47,425.47 271.32,425.47 272.17,425.43 273.03,425.23 273.88,425.06 274.73,425.15 275.58,425.30 276.43,425.30 277.28,425.28 278.13,425.43 278.98,425.91 279.83,426.51 280.69,426.58 281.54,425.94 282.39,425.27 283.24,425.29 284.09,425.61 284.94,425.38 285.79,424.88 286.64,424.86 287.49,425.38 288.35,425.98 289.20,425.82 290.05,424.90 290.90,424.36 291.75,424.69 292.60,425.12 293.45,425.15 294.30,425.07 295.15,425.35 296.01,425.91 296.86,426.16 297.71,425.74 298.56,425.08 299.41,424.90 300.26,425.07 301.11,425.15 301.96,425.30 302.81,425.70 303.67,426.18 304.52,426.33 305.37,425.84 306.22,425.34 307.07,425.38 307.92,425.44 308.77,425.50 309.62,425.70 310.47,425.64 311.32,425.34 312.18,425.05 313.03,424.94 313.88,425.06 314.73,425.07 315.58,424.90 316.43,425.01 317.28,425.43 318.13,425.71 318.98,425.59 319.84,425.39 320.69,425.29 321.54,424.89 322.39,424.41 323.24,424.59 324.09,425.25 324.94,425.63 325.79,425.41 326.64,424.99 327.50,424.73 328.35,424.46 329.20,424.44 330.05,425.02 330.90,425.53 331.75,425.46 332.60,425.19 333.45,425.08 334.30,425.00 335.16,424.86 336.01,425.07 336.86,425.72 337.71,426.05 338.56,425.84 339.41,425.71 340.26,425.78 341.11,425.88 341.96,425.99 342.82,425.88 343.67,425.57 344.52,425.39 345.37,425.45 346.22,425.66 347.07,425.84 347.92,425.84 348.77,425.61 349.62,425.45 350.48,425.69 351.33,425.90 352.18,425.61 353.03,425.07 353.88,424.85 354.73,425.16 355.58,425.53 356.43,425.37 357.28,425.14 358.14,425.49 358.99,425.97 359.84,426.07 360.69,425.79 361.54,425.25 362.39,424.97 363.24,425.24 364.09,425.57 364.94,425.40 365.80,424.71 366.65,423.93 367.50,423.72 368.35,424.53 369.20,425.51 370.05,425.65 370.90,425.21 371.75,424.91 372.60,424.92 373.46,425.05 374.31,425.00 375.16,424.72 376.01,424.83 376.86,425.65 377.71,426.24 378.56,425.78 379.41,424.99 380.26,424.95 381.12,425.37 381.97,425.38 382.82,425.03 383.67,424.98 384.52,425.28 385.37,425.51 386.22,425.48 387.07,425.20 387.92,424.90 388.78,425.21 389.63,426.00 390.48,426.22 391.33,425.84 392.18,425.75 393.03,425.99 393.88,425.99 394.73,425.79 395.58,425.67 396.44,425.51 397.29,425.14 398.14,424.72 398.99,424.56 399.84,424.74 400.69,425.14 401.54,425.48 402.39,425.40 403.24,425.06 404.10,424.82 404.95,424.78 405.80,424.88 406.65,425.08 407.50,425.43 408.35,425.78 409.20,425.75 410.05,425.42 410.90,425.23 411.76,425.28 412.61,425.34 413.46,425.22 414.31,424.98 415.16,424.92 416.01,425.07 416.86,425.11 417.71,424.98 418.56,424.97 419.41,425.18 420.27,425.43 421.12,425.65 421.97,425.65 422.82,425.40 423.67,425.21 424.52,425.09 425.37,424.97 426.22,424.97 427.07,425.07 427.93,425.40 428.78,425.87 429.63,426.08 430.48,425.96 431.33,425.41 432.18,424.60 433.03,424.28 433.88,424.85 434.73,425.52 435.59,425.34 436.44,424.71 437.29,424.42 438.14,424.66 438.99,425.30 439.84,425.91 440.69,425.98 441.54,425.52 442.39,425.15 443.25,425.08 444.10,424.93 444.95,424.75 445.80,424.85 446.65,424.99 447.50,424.80 448.35,424.72 449.20,424.90 450.05,424.73 450.91,424.34 451.76,424.41 452.61,425.19 453.46,426.10 454.31,426.36 455.16,426.09 456.01,425.74 456.86,425.42 457.71,425.30 458.57,425.36 459.42,425.46 460.27,425.48 461.12,425.43 461.97,425.79 462.82,426.53 463.67,426.95 464.52,426.78 465.37,426.12 466.23,425.22 467.08,424.70 467.93,425.13 468.78,426.12 469.63,426.63 470.48,426.46 471.33,426.16 472.18,425.76 473.03,425.16 473.89,424.93 474.74,425.16 475.59,425.02 476.44,424.78 477.29,425.07 478.14,425.31 478.99,425.55 479.84,426.27 480.69,426.70 481.55,426.21 482.40,425.40 483.25,424.89 484.10,424.60 484.95,424.52 485.80,424.87 486.65,425.23 487.50,425.13 488.35,424.94 489.21,425.00 490.06,424.86 490.91,424.36 491.76,424.22 492.61,424.86 493.46,425.72 494.31,426.04 495.16,425.82 496.01,425.63 496.87,425.54 497.72,425.38 498.57,425.35 499.42,425.47 500.27,425.52 501.12,425.56 501.97,425.56 502.82,425.31 503.67,425.05 504.53,425.15 505.38,425.34 506.23,425.24 507.08,425.06 507.93,425.02 508.78,424.94 509.63,424.86 510.48,425.21 511.33,425.91 512.19,426.31 513.04,426.10 513.89,425.70 514.74,425.55 515.59,425.43 516.44,424.91 517.29,424.21 518.14,423.95 518.99,424.05 519.85,424.10 520.70,424.18 521.55,424.61 522.40,425.24 523.25,425.45 524.10,425.10 524.95,425.05 525.80,425.42 526.65,425.43 527.51,425.13 528.36,425.22 529.21,425.52 530.06,425.28 530.91,424.57 531.76,424.20 532.61,424.36 533.46,424.59 534.31,424.77 535.16,425.02 536.02,425.30 536.87,425.48 537.72,425.39 538.57,425.01 539.42,424.68 540.27,424.69 541.12,424.93 541.97,425.27 542.82,425.93 543.68,426.64 544.53,426.69 545.38,426.31 546.23,425.95 547.08,425.67 547.93,425.65 548.78,425.24 549.63,424.79 550.48,425.18 551.34,425.43 552.19,425.43 553.04,425.76 553.89,426.09 554.74,425.92 555.59,426.01 556.44,426.61 557.29,426.45 558.14,425.66 559.00,425.30 559.85,424.81 560.70,423.96 561.55,423.78 562.40,424.23 563.25,424.82 564.10,425.01 564.95,424.46 565.80,424.03 566.66,424.19 567.51,424.99 568.36,425.46 569.21,424.68 570.06,424.39 570.91,424.90 571.76,424.65 572.61,423.94 573.46,423.96 574.32,424.24 575.17,424.32 576.02,425.13 576.87,425.55 577.72,424.65 578.57,424.45 579.42,424.98 580.27,425.09 581.12,425.12 581.98,425.10 582.83,425.52 583.68,425.77 584.53,425.53 585.38,425.34 586.23,424.60 587.08,424.39 587.93,424.89 588.78,424.65 589.64,424.40 590.49,424.82 591.34,425.36 592.19,425.43 593.04,425.43 593.89,425.76 594.74,425.90 595.59,426.19 596.44,425.99 597.30,425.14 598.15,424.65 599.00,424.10 599.85,423.78 600.70,424.00 601.55,424.17 602.40,424.58 603.25,425.14 604.10,425.51 604.96,425.93 605.81,426.47 606.66,426.46 607.51,426.03 608.36,425.43 609.21,425.04 610.06,425.42 610.91,425.84 611.76,425.94 612.62,425.06 613.47,423.99 614.32,424.27 615.17,424.79 616.02,425.08 616.87,425.69 617.72,426.03 618.57,425.97 619.42,425.98 620.28,425.97 621.13,425.90 621.98,425.85 622.83,426.26 623.68,426.57 624.53,426.07 625.38,425.48 626.23,424.97 627.08,424.64 627.94,425.05 628.79,424.87 629.64,424.09 630.49,424.41 631.34,425.30 632.19,425.44 633.04,425.61 633.89,426.19 634.74,425.44 635.60,424.31 636.45,424.31 637.30,424.94 638.15,425.65 639.00,425.94 639.85,425.85 640.70,425.44 641.55,425.42 642.40,426.02 643.25,426.29 644.11,426.01 644.96,425.58 645.81,425.32 646.66,425.20 647.51,424.99 648.36,424.69 649.21,424.85 650.06,425.61 650.91,426.31 651.77,426.41 652.62,425.82 653.47,425.06 654.32,424.87 655.17,424.93 656.02,424.95 656.87,425.40 657.72,425.64 658.57,425.02 659.43,424.60 660.28,424.92 661.13,425.15 661.98,425.06 662.83,425.09 663.68,425.09 664.53,424.98 665.38,425.12 666.23,425.46 667.09,425.62 667.94,425.73 668.79,425.80 669.64,425.46 670.49,425.02 671.34,424.96 672.19,425.06 673.04,425.02 673.89,425.10 674.75,425.32 675.60,425.35 676.45,425.46 677.30,425.70 678.15,425.36 679.00,424.67 679.85,424.58 680.70,424.88 681.55,424.83 682.41,424.45 683.26,424.35 684.11,424.99 684.96,425.71 685.81,425.38 686.66,424.50 687.51,424.45 688.36,425.20 689.21,425.67 690.07,425.59 690.92,425.51 691.77,425.58 692.62,425.43 693.47,425.00 694.32,424.79 695.17,425.19 696.02,425.95 696.87,426.37 697.73,426.15 698.58,425.83 699.43,425.54 700.28,424.94 701.13,424.61 701.98,424.90 702.83,424.98 703.68,424.69 704.53,424.75 705.39,425.15 706.24,425.32 707.09,425.24 707.94,425.08 708.79,424.84 709.64,424.69 710.49,424.91 711.34,425.11 712.19,424.87 713.05,424.67 713.90,424.77 714.75,424.72 715.60,424.63 716.45,424.82 717.30,425.10 718.15,425.36 719.00,425.77 719.85,426.10 720.71,426.07 721.56,425.67 722.41,425.13 723.26,424.71 724.11,424.49 724.96,424.56 725.81,425.02 726.66,425.58 727.51,425.86 728.37,425.72 729.22,425.30 730.07,425.11 730.92,425.25 731.77,425.19 732.62,424.93 733.47,424.88 734.32,424.97 735.17,425.02 736.03,425.15 736.88,425.45 737.73,425.59 738.58,425.32 739.43,425.21 740.28,425.38 741.13,425.40 741.98,425.20 742.83,424.94 743.69,424.75 744.54,424.78 745.39,425.01 746.24,424.97 747.09,424.56 747.94,424.56 748.79,424.92 749.64,425.01 750.49,425.10 751.34,425.40 752.20,425.35 753.05,424.97 753.90,424.64 754.75,424.26 755.60,424.10 756.45,424.54 757.30,425.03 758.15,425.33 759.00,425.48 759.86,425.04 760.71,424.48 761.56,424.69 762.41,425.26 763.26,425.48 764.11,425.51 764.96,425.84 765.81,426.19 766.66,425.79 767.52,424.94 768.37,424.61 769.22,424.92 770.07,425.25 770.92,425.35 771.77,425.45 772.62,425.35 773.47,424.81 774.32,424.45 775.18,424.59 776.03,424.82 776.88,425.24 777.73,425.79 778.58,425.89 779.43,425.61 780.28,425.39 781.13,425.46 781.98,425.65 782.84,425.48 783.69,425.13 784.54,425.14 785.10,425.14 L785.10,437.8 80.3,437.8Z" fill="#b65247"/>
<text transform="scale(0.95,1)" x="87.20 93.78 100.37 106.95 113.94 118.41 125.00 131.99 136.46 143.04 149.58 152.97 159.55 165.74 168.78 175.36 181.55 184.59 191.18" y="434" font-size="11.3" class="halo" >2023-10-23 00:01:47</text>
<text transform="scale(0.95,1)" x="266.46 273.05 279.63 286.21 293.20 297.68 304.26 311.25 315.72 322.31 328.84 332.23 338.82 345.00 348.05 354.63 360.81 363.86 370.44" y="434" font-size="11.3" class="halo" >2023-10-23 01:41:37</text>
<text transform="scale(0.95,1)" x="446.15 452.73 459.31 465.90 472.89 477.36 483.94 490.94 495.41 501.99 508.53 511.92 518.50 524.69 527.73 534.31 540.50 543.54 550.12" y="434" font-size="11.3" class="halo" >2023-10-23 03:21:19</text>
<text transform="scale(0.95,1)" x="625.10 631.68 638.26 644.84 651.84 656.31 662.89 669.88 674.36 680.94 687.47 690.86 697.45 703.63 706.68 713.26 719.45 722.49 729.07" y="434" font-size="11.3" class="halo" >2023-10-23 05:01:23</text>
<text transform="scale(0.95,1)" x="804.36 809.61" y="434" font-size="11.3" class="halo" >2…</text>
<rect x="547" y="398" width="93" height="39.8" fill="rgba(106,108,245,0.285)"/>
<path d="M79,397.5H640.5M546.5,397.5V437.8M640.5,437.8V397.5L786,398.5" fill="none" stroke="#999999" stroke-width="1"/>
<rect x="542.5" y="410.5" width="8" height="15" fill="#f7f7f7" stroke="#999999" stroke-width="1"/>
<path d="M545.5,414V422M547.5,414V422" stroke="#8c8c8c" stroke-width="1" fill="none"/>
<rect x="636.5" y="410.5" width="8" height="15" fill="#f7f7f7" stroke="#999999" stroke-width="1"/>
<path d="M639.5,414V422M641.5,414V422" stroke="#8c8c8c" stroke-width="1" fill="none"/>
<rect x="79.5" y="441" width="706.5" height="8" rx="20" ry="4" fill="#eeeeee"/>
<rect x="547" y="441" width="94" height="8" rx="4" ry="4" fill="#cccccc"/>
<circle cx="351" cy="466.8" r="5" fill="#8aa4d6"/>
<text transform="scale(0.95,1)" x="383.56 389.31 395.61 402.29 409.19 412.89" y="470.8" font-size="11" class="lbl" >Length</text>
<circle cx="425.5" cy="466.8" r="5" fill="#b65247"/>
<text transform="scale(0.95,1)" x="462.00 472.78 475.75 482.64 486.35" y="470.8" font-size="11" class="lbl" >Width</text>
</svg></body></html>
